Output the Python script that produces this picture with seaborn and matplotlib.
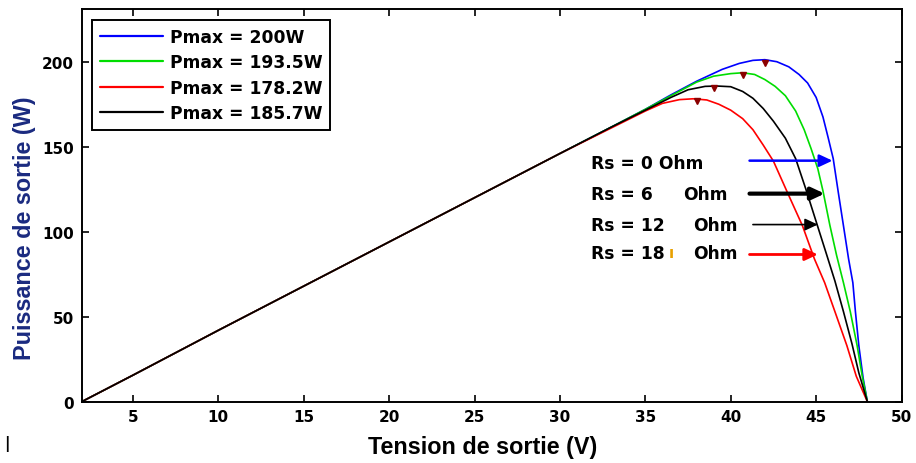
import matplotlib
matplotlib.use("Agg")
import matplotlib.pyplot as plt
import seaborn as sns
import pandas as pd
from matplotlib.lines import Line2D

# ---------------- data ----------------
V_rs0 = [2, 5, 10, 15, 20, 25, 30, 33, 35, 36.5, 38, 39.5, 40.5, 41.3, 42.0, 42.7, 43.4, 44.0,
         44.5, 45.0, 45.4, 45.7, 46.0, 46.3, 46.6, 46.9, 47.15, 47.3, 47.5, 47.75, 48.0]
P_rs0 = [0, 15.6, 42, 68, 94, 120, 146, 161.5, 172, 180.5, 188.5, 195.5, 199, 200.8, 201.2, 200,
         197, 192.5, 187.5, 179, 167.5, 155.5, 143, 123, 103.5, 84, 70, 53, 33, 14, 0]

V_rs6 = [2, 5, 10, 15, 20, 25, 30, 33, 35, 36.5, 38, 39, 40, 40.7, 41.4, 42.0, 42.6, 43.2, 43.8,
         44.3, 44.7, 45.1, 45.4, 45.8, 46.2, 46.6, 47.0, 47.4, 47.7, 48.0]
P_rs6 = [0, 15.6, 42, 68, 94, 120, 146, 161.5, 172, 180, 188, 191.5, 193, 193.5, 192.5, 189.5,
         185.5, 180, 171, 160, 149, 137, 124, 104, 86, 70, 53, 33, 15, 0]

V_rs12 = [2, 5, 10, 15, 20, 25, 30, 33, 35, 36.5, 37.5, 38.5, 39.2, 40.0, 40.7, 41.3, 41.9, 42.5,
          43.2, 43.8, 44.4, 45.0, 45.6, 46.1, 46.6, 47.1, 47.5, 48.0]
P_rs12 = [0, 15.6, 42, 68, 94, 120, 146, 161.5, 171.5, 179, 183.5, 185.5, 185.7, 185.3, 182.5,
          178.5, 172.5, 165, 155, 143, 125, 106, 87, 71, 53, 34, 17, 0]

V_rs18 = [2, 5, 10, 15, 20, 25, 30, 33, 35, 36, 37, 37.8, 38.6, 39.3, 40.0, 40.7, 41.3, 41.9,
          42.5, 43.3, 44.2, 44.9, 45.5, 46.1, 46.8, 47.35, 48.0]
P_rs18 = [0, 15.6, 42, 68, 94, 120, 146, 161, 171, 175.5, 177.7, 178.2, 177.5, 175, 171.5, 166.5,
          160, 151, 141.5, 123.5, 103.5, 84, 70, 53, 33, 15, 0]

legend_labels = ["Pmax = 200W", "Pmax = 193.5W", "Pmax = 178.2W", "Pmax = 185.7W"]
curve_colors = ["#0000ff", "#00dd00", "#ff0000", "#000000"]

mpp_v = [42.0, 40.7, 38.0, 39.0]
mpp_p = [199.5, 192.2, 176.8, 184.3]

rs_labels = ["Rs = 0 Ohm", "Rs = 6", "Rs = 12", "Rs = 18"]
x_ticks = [5, 10, 15, 20, 25, 30, 35, 40, 45, 50]
y_ticks = [0, 50, 100, 150, 200]

# ---------------- build long table ----------------
frames = []
for lab, vv, pp in zip(legend_labels, [V_rs0, V_rs6, V_rs18, V_rs12],
                       [P_rs0, P_rs6, P_rs18, P_rs12]):
    frames.append(pd.DataFrame({"V": vv, "P": pp, "curve": lab}))
df = pd.concat(frames, ignore_index=True)

# ---------------- style ----------------
sns.set_style("ticks")
plt.rcParams["font.family"] = ["DejaVu Sans"]
plt.rcParams["font.weight"] = "bold"
plt.rcParams["text.color"] = "black"
plt.rcParams["axes.labelcolor"] = "black"
plt.rcParams["xtick.color"] = "black"
plt.rcParams["ytick.color"] = "black"
WIDE = ["DejaVu Sans"]
ARIAL = ["Liberation Sans", "DejaVu Sans"]

fig = plt.figure(figsize=(9.16, 4.64), dpi=100)
fig.patch.set_facecolor("white")
ax = fig.add_axes([0.0892, 0.1321, 0.8950, 0.8463])

sns.lineplot(data=df, x="V", y="P", hue="curve", hue_order=legend_labels,
             palette=curve_colors, sort=False, estimator=None, units="curve",
             linewidth=1.2, legend=False, ax=ax)

# maximum power point markers
ax.plot(mpp_v, mpp_p, linestyle="none", marker="v", markersize=4.5,
        color="#8b0000", zorder=5)

ax.set_xlim(2, 50)
ax.set_ylim(0, 231)
ax.set_xticks(x_ticks)
ax.set_yticks(y_ticks)
ax.tick_params(direction="in", length=5, width=1.2, top=True, right=True,
               labelsize=11, pad=5.5, colors="black")
for lbl in ax.get_xticklabels() + ax.get_yticklabels():
    lbl.set_fontweight("bold")
    lbl.set_family(WIDE)
for sp in ax.spines.values():
    sp.set_visible(True)
    sp.set_linewidth(1.4)
    sp.set_color("black")

ax.set_xlabel("Tension de sortie (V)", fontsize=16.8, fontweight="bold", color="black",
              family=ARIAL)
ax.set_ylabel("Puissance de sortie (W)", fontsize=16.8, fontweight="bold", color="#1a2a80",
              family=ARIAL)
ax.xaxis.set_label_coords(0.489, -0.086)
ax.yaxis.set_label_coords(-0.056, 0.4436)

# legend
handles = [Line2D([0], [0], color=c, lw=1.6) for c in curve_colors]
leg = ax.legend(handles, legend_labels, loc="upper left", bbox_to_anchor=(0.0126, 0.972),
                borderaxespad=0, fancybox=False, framealpha=1, edgecolor="black",
                handlelength=3.7, handletextpad=0.4, labelspacing=0.44, borderpad=0.45,
                prop={"size": 12.3, "weight": "bold", "family": WIDE})
leg.get_frame().set_linewidth(1.4)
for t in leg.get_texts():
    t.set_color("black")

# Rs annotations
txt_kw = dict(fontsize=12.3, fontweight="bold", va="center", ha="left", color="black",
              family=WIDE)
ax.text(31.8, 140.4, rs_labels[0], **txt_kw)
ax.text(31.8, 122.4, rs_labels[1], **txt_kw)
ax.text(37.2, 122.4, "Ohm", **txt_kw)
ax.text(31.8, 104.2, rs_labels[2], **txt_kw)
ax.text(37.8, 104.2, "Ohm", **txt_kw)
ax.text(31.8, 87.6, rs_labels[3], **txt_kw)
ax.text(36.4, 87.6, "ı", fontsize=11, fontweight="bold", va="center", ha="left",
        color="#e8a000", family=WIDE)
ax.text(37.8, 87.6, "Ohm", **txt_kw)

arrows = [
    (41.1, 45.96, 141.8, "#0000ff", 1.8),
    (41.1, 45.5, 122.4, "#000000", 3.0),
    (41.3, 45.1, 104.2, "#000000", 1.2),
    (41.1, 45.1, 86.6, "#ff0000", 2.0),
]
for x0, x1, yy, col, lw in arrows:
    ax.annotate("", xy=(x1, yy), xytext=(x0, yy),
                arrowprops=dict(arrowstyle="-|>,head_length=0.6,head_width=0.28",
                                color=col, lw=lw, shrinkA=0, shrinkB=0,
                                mutation_scale=13))

fig.text(0.004, 0.035, "|", fontsize=11, color="black")

fig.savefig("out.png", dpi=100, facecolor="white")
